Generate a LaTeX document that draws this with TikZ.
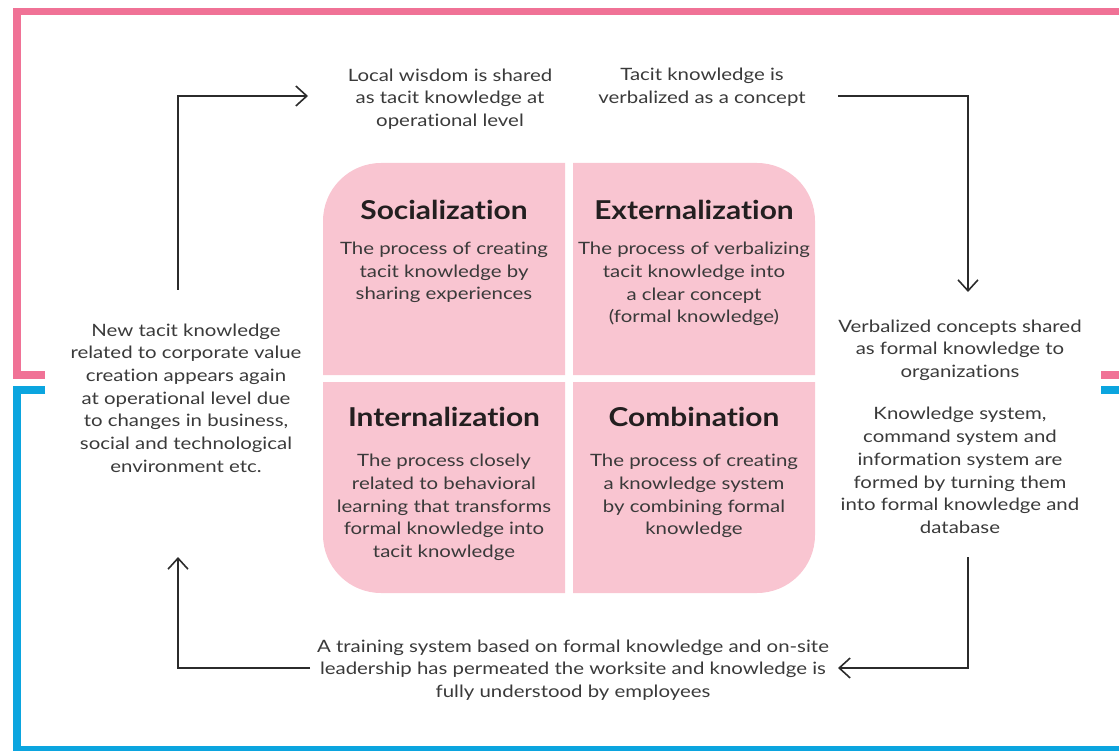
\documentclass[tikz,border=0pt]{standalone}
\usepackage{fontspec}
\setmainfont{Lato}[FakeStretch=1.2, Ligatures=NoCommon]
\newfontfamily\titlefont{Lato}[FakeStretch=1.15, Ligatures=NoCommon]
\usetikzlibrary{arrows.meta}
\definecolor{pinkline}{HTML}{F07296}
\definecolor{blueline}{HTML}{0BA5DF}
\definecolor{quad}{HTML}{F9C5D1}
\definecolor{txt}{HTML}{3A3A3A}
\definecolor{ttl}{HTML}{231F20}
\definecolor{arrc}{HTML}{2B2B2B}
\tikzset{
  body/.style={align=center, text=txt, font=\fontsize{17}{22.7}\selectfont, inner sep=0pt},
  title/.style={text=ttl, font=\titlefont\fontsize{26}{30}\selectfont\bfseries, inner sep=0pt},
  quadfill/.style={fill=quad, draw=none},
  frame/.style={line width=7.5pt},
  arr/.style={draw=arrc, line width=1.6pt, -{Straight Barb[length=11pt,width=20pt,line width=1.6pt]}},
}
\begin{document}
\begin{tikzpicture}[x=1pt,y=-1pt]
\useasboundingbox (0,0) rectangle (1119,751);
% frames
\draw[frame, pinkline] (1119,11.5) -- (17,11.5) -- (17,375) -- (45,375);
\draw[frame, blueline] (45,390) -- (17,390) -- (17,750) -- (1119,750);
\draw[frame, pinkline] (1101,375) -- (1119,375);
\draw[frame, blueline] (1101,390) -- (1119,390);
% quadrants
\fill[quadfill] (565,375) -- (323,375) -- (323,221) .. controls (323,188.97) and (348.97,163) .. (381,163) -- (565,163) -- cycle;
\fill[quadfill] (573,375) -- (573,163) -- (757,163) .. controls (789.03,163) and (815,188.97) .. (815,221) -- (815,375) -- cycle;
\fill[quadfill] (565,382) -- (565,593) -- (381,593) .. controls (348.97,593) and (323,567.03) .. (323,535) -- (323,382) -- cycle;
\fill[quadfill] (573,382) -- (815,382) -- (815,535) .. controls (815,567.03) and (789.03,593) .. (757,593) -- (573,593) -- cycle;
% titles and bodies
\node[title] (soc) at (444,209.5) {Socialization};
\node[body] (socb) at (444,272.5) {The process of creating\\tacit knowledge by\\sharing experiences};
\node[title] (ext) at (694,209.5) {Externalization};
\node[body] (extb) at (694,284) {The process of verbalizing\\tacit knowledge into\\a clear concept\\(formal knowledge)};
\node[title] (int) at (444,416.5) {Internalization};
\node[body] (intb) at (444,507.5) {The process closely\\related to behavioral\\learning that transforms\\formal knowledge into\\tacit knowledge};
\node[title] (com) at (694,416.5) {Combination};
\node[body] (comb) at (694,496) {The process of creating\\a knowledge system\\by combining formal\\knowledge};
% outer texts
\node[body] (tl) at (450,99) {Local wisdom is shared\\as tacit knowledge at\\operational level};
\node[body] (tr) at (702,87.5) {Tacit knowledge is\\verbalized as a concept};
\node[body] (lt) at (186,398) {New tacit knowledge\\related to corporate value\\creation appears again\\at operational level due\\to changes in business,\\social and technological\\environment etc.};
\node[body] (rt1) at (960,350) {Verbalized concepts shared\\as formal knowledge to\\organizations};
\node[body] (rt2) at (960,470.5) {Knowledge system,\\command system and\\information system are\\formed by turning them\\into formal knowledge and\\database};
\node[body] (bt) at (573,670) {A training system based on formal knowledge and on-site\\leadership has permeated the worksite and knowledge is\\fully understood by employees};
% arrow end points
\coordinate (a1s) at (178,290);
\coordinate (a1e) at (308,96);
\coordinate (a2s) at (838,96);
\coordinate (a2e) at (968,292);
\coordinate (a3s) at (968,557);
\coordinate (a3e) at (838,668);
\coordinate (a4s) at (310,668);
\coordinate (a4e) at (178,557);
\draw[arr] (a1s) |- (a1e);
\draw[arr] (a2s) -| (a2e);
\draw[arr] (a3s) |- (a3e);
\draw[arr] (a4s) -| (a4e);
\end{tikzpicture}
\end{document}
